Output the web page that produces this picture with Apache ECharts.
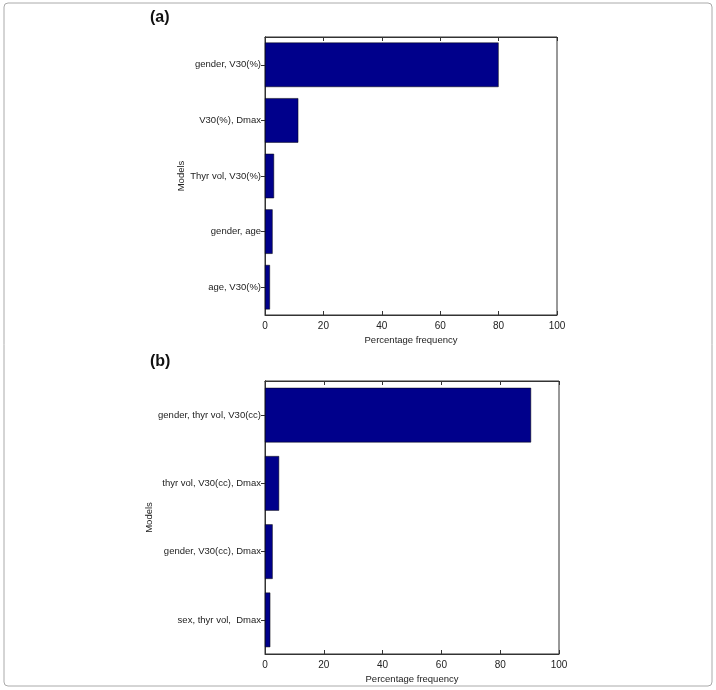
<!DOCTYPE html>
<html>
<head>
<meta charset="utf-8">
<script src="https://cdn.jsdelivr.net/npm/echarts@6/dist/echarts.min.js"></script>
<style>
  html, body { margin: 0; padding: 0; background: #fff; }
  #chart { width: 716px; height: 690px; }
</style>
</head>
<body>
<div id="chart"></div>
<script>
// panel (a)
const modelsA = ["gender, V30(%)", "V30(%), Dmax", "Thyr vol, V30(%)", "gender, age", "age, V30(%)"];
const freqA = [80, 11.4, 3.1, 2.6, 1.7];
// panel (b)
const modelsB = ["gender, thyr vol, V30(cc)", "thyr vol, V30(cc), Dmax", "gender, V30(cc), Dmax", "sex, thyr vol,  Dmax"];
const freqB = [90.5, 4.8, 2.6, 1.8];

const font = "Liberation Sans";
const barColor = "#00008b";

function valueAxis(grid, showLabels, pos) {
  return {
    type: "value", gridIndex: grid, min: 0, max: 100, interval: 20, position: pos,
    name: showLabels ? "Percentage frequency" : "", nameLocation: "middle", nameGap: 20,
    nameTextStyle: { fontFamily: font, fontSize: 9.5, color: "#222" },
    axisLine: { show: true, lineStyle: { color: "#333", width: 1 } },
    axisTick: { show: true, inside: true, length: 4, lineStyle: { color: "#333" } },
    axisLabel: { show: showLabels, fontFamily: font, fontSize: 10, color: "#222", margin: 6 },
    splitLine: { show: false }
  };
}
function catAxis(grid, cats, showLabels, pos, name) {
  return {
    type: "category", gridIndex: grid, data: cats, inverse: true, position: pos,
    name: name, nameLocation: "middle", nameGap: 78, nameRotate: 90,
    nameTextStyle: { fontFamily: font, fontSize: 9.5, color: "#222" },
    axisLine: { show: true, lineStyle: { color: "#333", width: 1 } },
    axisTick: { show: !showLabels, inside: true, length: 4, alignWithLabel: true, lineStyle: { color: "#333" } },
    axisLabel: { show: showLabels, fontFamily: font, fontSize: 9.5, color: "#222", margin: 4 }
  };
}

const chart = echarts.init(document.getElementById("chart"));
chart.setOption({
  animation: false,
  graphic: [
    { type: "rect", shape: { x: 4, y: 3, width: 708, height: 683, r: 4 },
      style: { fill: "none", stroke: "#aaa", lineWidth: 1 } },
    { type: "text", left: 150, top: 10, style: { text: "(a)", font: "bold 16px Liberation Sans", fill: "#111" } },
    { type: "text", left: 150, top: 354, style: { text: "(b)", font: "bold 16px Liberation Sans", fill: "#111" } }
  ],
  grid: [
    { left: 265, top: 37, width: 292, height: 278, show: true, borderColor: "#333", borderWidth: 1 },
    { left: 265, top: 381, width: 294, height: 273, show: true, borderColor: "#333", borderWidth: 1 }
  ],
  xAxis: [
    valueAxis(0, true, "bottom"), valueAxis(0, false, "top"),
    valueAxis(1, true, "bottom"), valueAxis(1, false, "top")
  ],
  yAxis: [
    catAxis(0, modelsA, true, "left", "Models"), catAxis(0, modelsA, false, "right", ""),
    catAxis(1, modelsB, true, "left", "Models"), catAxis(1, modelsB, false, "right", "")
  ],
  series: [
    { type: "bar", xAxisIndex: 0, yAxisIndex: 0, data: freqA, barCategoryGap: "20%",
      itemStyle: { color: barColor, borderColor: "#000", borderWidth: 0.5 } },
    { type: "bar", xAxisIndex: 2, yAxisIndex: 2, data: freqB, barCategoryGap: "20%",
      itemStyle: { color: barColor, borderColor: "#000", borderWidth: 0.5 } }
  ]
});
</script>
</body>
</html>
